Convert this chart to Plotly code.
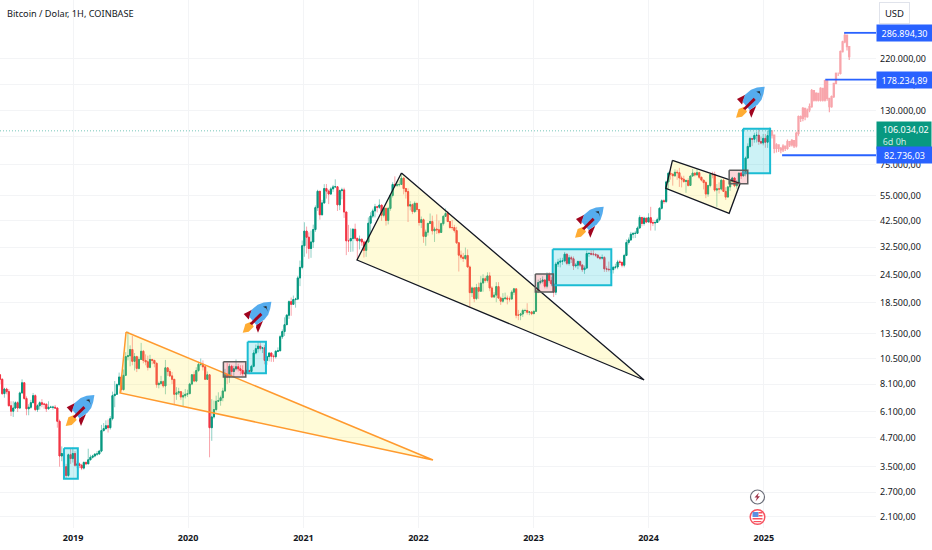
"""
Bitcoin / Dolar chart with hand drawn patterns, built with Plotly
"""
import numpy as np
import pandas as pd
import plotly.graph_objects as go

# weekly closes / highs / lows, one group per year
closes_2018 = [8500,7350,7700,7500,6500,6150,6350,6700,6350,7400,8200,7000,6300,6400,6700,7200,6250,6500,6700,6600,6600,6300,6400,6400,6400,6350,5550,3900,4000,3500,3200,3950,3800,4000]
highs_2018 = [8900,8600,7800,7800,7700,6800,6800,6800,6800,7500,8500,8250,7150,6600,6900,7400,7300,6600,6800,6950,6700,6650,6800,6500,6500,6550,6400,5650,4300,4200,3600,4000,4200,4250]
lows_2018 = [8100,7250,7050,7300,6450,5850,5800,6300,6100,6300,7350,6900,5900,5900,6300,6700,6150,6100,6250,6400,6300,6100,6250,6350,6250,6300,5200,3500,3700,3300,3120,3150,3600,3650]

closes_2019 = [3550,3600,3550,3450,3650,3600,3750,3850,3900,3980,3980,4100,5050,5150,5300,5200,5700,7200,7300,8050,8700,7650,8850,10700,10800,11500,10200,10700,9500,10400,11300,10300,10150,9600,10400,10300,10000,8050,8150,8300,7950,9550,9200,8800,8500,7300,7400,7500,7100,7200,7300,7350]
highs_2019 = [4100,3700,3650,3600,3700,3700,4200,3950,3950,4000,4100,4150,5350,5450,5600,5650,5850,7500,8350,8150,9100,8850,9400,11200,13800,12000,13200,11100,10800,10700,12300,11450,10950,10800,10900,10450,10350,10100,8300,8800,8400,10350,9550,9450,9150,8500,7850,7800,7500,7450,7700,7650]
lows_2019 = [3500,3450,3450,3380,3400,3550,3650,3750,3800,3850,3900,3950,4050,5000,5100,4950,5100,5600,6400,7300,7900,7450,7600,8800,10300,9700,9800,9300,9150,9400,10400,10000,9800,9300,9500,9900,9600,7800,7750,8000,7800,7300,8800,8700,8100,6550,6900,7250,6900,6450,7000,7100]

closes_2020 = [8100,8900,8350,9300,9900,9900,9650,8500,8900,5200,5800,6250,6800,6850,7050,7550,8900,8700,9700,9200,9450,9650,9450,9300,9000,9050,9300,9200,9700,11100,11600,11900,11650,11700,10300,10700,11100,10750,10700,11300,11350,13100,13800,14800,16300,18700,18200,19100,19200,23800,26500,33000]
highs_2020 = [8200,8950,9200,9600,10150,10500,10300,9700,9200,8000,6950,6850,7200,7450,7200,7800,9450,10050,9950,9850,9750,10400,9950,9800,9800,9300,9450,9350,9850,11450,12100,12450,12500,11800,12050,10800,11200,11200,10950,11450,11750,13350,14100,15950,16500,18950,19500,19900,19450,24300,28400,34800]
lows_2020 = [7300,8000,8250,8250,9150,9700,9300,8500,8450,3850,4550,5700,6150,6750,6500,6800,7500,8100,8200,8800,8700,9300,9200,8900,8800,8950,9000,8950,9100,9600,10950,11150,11400,11100,9900,9850,10200,10150,10150,10500,11200,11350,12800,13200,14800,15700,16200,18300,17600,19000,21900,26000]

closes_2021 = [38300,36000,32100,34300,38900,48600,57400,45200,51000,59000,57500,55800,58800,60000,60100,50000,57800,58200,46500,34700,34700,35500,39000,35600,34700,35300,34300,31500,34300,41500,44600,47000,49000,48800,49900,45000,48300,42700,48200,55000,61500,61000,61300,61500,65500,59000,57200,49400,50100,46700,50800,47700]
highs_2021 = [41900,40100,37800,38500,40900,49700,58300,52600,52600,61700,61800,58400,60000,61200,64800,56800,58400,59500,59500,46600,40800,39400,39500,41300,35600,36600,35100,34800,34500,44000,46400,48100,50500,49500,52900,47100,48800,48300,49000,55800,62900,66800,63700,64200,69000,66300,59400,59100,51900,50700,51800,48500]
lows_2021 = [29500,30500,28900,29200,32300,38000,47000,43000,44900,50500,53300,50400,55300,57000,59800,47000,47400,52900,43800,30000,31000,31000,31100,34800,28800,31800,33000,29300,29500,33900,37300,43700,44000,46300,48000,42500,44000,40500,41000,47100,53900,60000,59900,60200,62200,55600,53300,42000,47300,45500,46000,46600]

closes_2022 = [41800,43000,36300,37900,41400,42200,38400,39100,38800,37800,41300,44500,45800,42200,39700,39700,38500,34000,30000,29400,29000,29900,26600,20500,21500,19300,21600,20800,22600,23600,23200,24300,21500,19600,20000,21800,19400,18800,19300,19400,19200,19200,20600,21300,16300,16300,16500,17100,17100,16800,16850,16550]
highs_2022 = [47500,44400,43500,38900,41700,45800,44800,40000,45400,42600,41700,45000,48200,47000,42400,42900,40800,40000,34200,31400,30700,32400,31800,27000,21800,21700,22400,22700,24300,24700,24200,25200,25200,21900,20600,22800,22800,19700,20400,20500,19900,19700,21000,21500,21000,17200,16700,17400,17400,18400,17000,16900]
lows_2022 = [40500,39500,34000,33000,36600,41100,37000,34300,37200,37100,37600,40500,45500,42100,39300,38700,37700,33600,25400,28700,28000,28600,26500,17600,19600,18600,19000,19200,20700,20700,22700,22700,20800,19500,19500,18600,19300,18100,18500,19000,18200,18700,19200,20000,15800,15500,15500,16000,16700,16400,16300,16300]

closes_2023 = [16950,20900,22700,23000,23300,21900,24600,23200,22400,20600,27400,27950,28200,28300,30300,27600,29200,28900,26900,27100,28100,27100,25900,26300,30500,30500,30300,30300,30000,29300,29100,29300,26100,26000,25900,25900,26500,26600,28000,27900,27100,29900,34100,35000,37100,37400,37450,39500,44000,41400,43700,42000]
highs_2023 = [17100,21300,23400,23800,24200,23500,25200,25200,24000,22600,28000,28900,29200,29200,31000,30500,30000,29800,29600,27700,28400,28400,27400,27000,31400,31000,31500,31800,30400,30300,29700,30200,29700,26800,28100,26400,26900,27500,28600,28600,28000,30400,35200,35900,38000,37900,38400,40200,45000,43400,44300,43800]
lows_2023 = [16500,17000,20400,22300,22500,21400,21400,22700,21900,19600,20000,26600,26500,27200,27900,27100,27000,27700,25800,26400,26000,26600,25300,24800,26200,29500,29900,29700,29500,28900,28600,28700,25300,25300,25400,25000,24900,26000,26000,27100,26500,26500,29700,33400,34700,35600,35700,37500,39900,40200,40500,41500]

closes_2024 = [43900,41700,41600,41800,43000,48300,52100,51700,63100,68900,68400,67200,69600,69300,65700,64900,63400,64000,60900,67000,69000,67700,69300,66200,64300,62700,55800,60800,68100,68000,58100,58800,58700,64200,57300,54100,60000,63500,65700,60700,62800,69000,67100,68700,80400,90500,98000,97400,101200,101400,95100,93700,98200]
highs_2024 = [45900,49000,43000,42800,43900,48800,52900,52900,64000,70000,73800,68200,71700,71300,72800,67200,67200,64700,65500,67500,71900,69500,71900,70000,66400,63400,63800,61400,68300,70000,70000,61800,62800,65000,64900,59800,60600,64100,66500,66000,64400,69400,70000,73600,81700,93400,99700,98700,104000,105000,108300,99900,102700]
lows_2024 = [42600,38500,40300,38500,41900,42300,47700,50500,50900,59000,64600,60800,66400,64500,60000,59700,62500,56500,60200,60700,66700,66700,67700,65000,63400,58500,53500,54300,59700,65500,57100,49000,56100,57800,57200,52600,54600,57600,62700,59800,58900,62000,65000,66800,66800,80200,89400,90800,94000,94200,92000,92500,91500]

closes_2025 = [94500,101000,106034.02]
highs_2025 = [102700,106300,109800]
lows_2025 = [89300,89200,99500]

# the faded projection after the last real candle
ghost_closes = [101600,88800,91900,88800,87300,90900,88800,95000,91900,96000,90900,103400,122400,120300,133200,122400,131000,135500,159500,145000,155200,145000,163200,145000,176500,147500,135500,150000,171800,190200,190200,237000,262000,280000,249400,225300]
ghost_highs = [106000,100000,93500,92000,90000,92500,91000,97000,95000,97500,96000,105000,124000,124000,135000,133000,133000,140000,162000,160000,157000,155000,165000,163000,178000,176000,147000,152000,173000,192000,192000,240000,265000,286894,282000,250000]
ghost_lows = [98000,84400,85000,85500,84500,85500,86500,87500,90000,90500,89000,89500,101000,116000,117000,118000,121000,128000,134000,143000,143000,143000,143000,143000,143000,144000,128000,134000,148000,170000,185000,188000,235000,258000,240000,218000]

# right axis and bottom axis labels
price_ticks = [220000,170000,130000,100000,75000,55000,42500,32500,24500,18500,13500,10500,8100,6100,4700,3500,2700,2100]
year_ticks = ["2019-01-01","2020-01-01","2021-01-01","2022-01-01","2023-01-01","2024-01-01","2025-01-01"]
year_labels = ["2019","2020","2021","2022","2023","2024","2025"]

# drawings on the chart, (date, price) corners
wedge_orange = [("2019-06-18",13740),("2022-02-16",3745),("2019-05-30",7396)]
wedge_black = [("2021-11-08",69080),("2023-12-18",8440),("2021-06-20",28560)]
flag_black = [("2024-03-17",78600),("2024-10-18",62230),("2024-09-13",45880),("2024-02-25",59160)]
cyan_boxes = [("2018-12-03","2019-01-16",4217,3097),("2020-07-08","2020-09-04",12450,9036),
              ("2023-03-03","2023-09-05",31840,22080),("2024-10-27","2025-01-21",108400,68870)]
pink_boxes = [("2020-04-22","2020-07-02",10160,8700),("2023-01-07","2023-03-05",24770,20630),
              ("2024-09-13","2024-11-11",71000,61950)]
target_lines = [("2025-09-13",286894.30,"286.894,30"),("2025-07-15",178234.89,"178.234,89"),("2025-02-28",82736.03,"82.736,03")]
last_price = 106034.02

rocket_corners = [(65.7,395),(242.7,301.7),(575,206.7),(736,86.7)]

UP = "#089981"
DOWN = "#f23645"
GHOST = "#f8a5ab"
YELLOW = "rgba(255,235,59,0.2)"
GRID = "#f3f4f6"
TEXT = "#131722"
FONT = "Noto Sans"
X_START, X_END = "2018-05-14", "2025-12-23"
PLOT_W, PLOT_H = 876, 528


def fmt_price(value):
    return f"{value:,.2f}".replace(",", "#").replace(".", ",").replace("#", ".")


def px_path(points):
    # pixel positions to paper coordinates for the overlay icons
    coords = [f"{x / PLOT_W:.5f} {1 - y / PLOT_H:.5f}" for x, y in points]
    return "M " + " L ".join(coords) + " Z"


def icon_shape(points, color):
    return dict(type="path", xref="paper", yref="paper", path=px_path(points),
                fillcolor=color, line=dict(width=0), layer="above")


def rocket_shapes(left, top):
    parts = [
        ([(0,31),(2.7,22.3),(8.3,20),(11,25),(6,30)], "#ffac33"),
        ([(1,12.3),(9.3,8),(6,17.7)], "#a0041e"),
        ([(13.7,23.3),(20.3,19),(15.3,31),(13.3,25.7)], "#a0041e"),
        ([(28.7,0),(21,0.8),(15,3),(9,8),(6.5,15),(13.7,23.3),(21.5,18),(25.5,13),(27.5,7)], "#55acee"),
        ([(17.7,11),(19.7,13.3),(9.3,23.3),(7,21.7)], "#a0041e"),
        ([(20.3,5),(23.7,4.3),(25,10),(23.7,6.7)], "#292f33"),
    ]
    return [icon_shape([(left + x, top + y) for x, y in pts], color) for pts, color in parts]


def circle_shape(cx, cy, r, fill, line_color, width):
    return dict(type="circle", xref="paper", yref="paper",
                x0=(cx - r) / PLOT_W, x1=(cx + r) / PLOT_W,
                y0=1 - (cy + r) / PLOT_H, y1=1 - (cy - r) / PLOT_H,
                fillcolor=fill, line=dict(color=line_color, width=width), layer="above")


def candles(x, o, h, l, c, up, down, up_fill, down_fill, width=1):
    return go.Candlestick(
        x=x, open=o, high=h, low=l, close=c, showlegend=False, hoverinfo="skip",
        increasing=dict(line=dict(color=up, width=width), fillcolor=up_fill),
        decreasing=dict(line=dict(color=down, width=width), fillcolor=down_fill),
    )


def outline(points, line_color, fill_color, width=1.5):
    xs = [p[0] for p in points] + [points[0][0]]
    ys = [p[1] for p in points] + [points[0][1]]
    return go.Scatter(x=xs, y=ys, mode="lines", fill="toself", fillcolor=fill_color,
                      line=dict(color=line_color, width=width), showlegend=False, hoverinfo="skip")


def box_points(box):
    d0, d1, top, bottom = box
    return [(d0, top), (d1, top), (d1, bottom), (d0, bottom)]


closes = np.array(closes_2018 + closes_2019 + closes_2020 + closes_2021 + closes_2022 + closes_2023 + closes_2024 + closes_2025, dtype=float)
highs = np.array(highs_2018 + highs_2019 + highs_2020 + highs_2021 + highs_2022 + highs_2023 + highs_2024 + highs_2025, dtype=float)
lows = np.array(lows_2018 + lows_2019 + lows_2020 + lows_2021 + lows_2022 + lows_2023 + lows_2024 + lows_2025, dtype=float)
opens = np.concatenate([[8900.0], closes[:-1]])
highs = np.maximum.reduce([highs, opens, closes])
lows = np.minimum.reduce([lows, opens, closes])
dates = pd.date_range("2018-05-14", periods=len(closes), freq="7D")

g_closes = np.array(ghost_closes, dtype=float)
g_opens = np.concatenate([[closes[-1]], g_closes[:-1]])
g_highs = np.maximum.reduce([np.array(ghost_highs, dtype=float), g_opens, g_closes])
g_lows = np.minimum.reduce([np.array(ghost_lows, dtype=float), g_opens, g_closes])
g_dates = pd.date_range(dates[-1] + pd.Timedelta(days=7), periods=len(g_closes), freq="7D")

fig = go.Figure()

# wicks are lighter than the bodies, so two layers of candles
fig.add_trace(candles(dates, opens, highs, lows, closes,
                      "rgba(8,153,129,0.45)", "rgba(242,54,69,0.45)", UP, DOWN))
fig.add_trace(candles(dates, opens, np.maximum(opens, closes), np.minimum(opens, closes), closes,
                      UP, DOWN, UP, DOWN, width=1))
fig.add_trace(candles(g_dates, g_opens, g_highs, g_lows, g_closes,
                      GHOST, GHOST, GHOST, GHOST, width=1.2))

fig.add_trace(go.Scatter(x=[X_START, X_END], y=[last_price, last_price], mode="lines",
                         line=dict(color="rgba(8,153,129,0.55)", width=1, dash="1px,2px"),
                         showlegend=False, hoverinfo="skip"))

fig.add_trace(outline(wedge_orange, "#ff9a2e", YELLOW))
fig.add_trace(outline(wedge_black, "#131722", YELLOW, width=1.3))
fig.add_trace(outline(flag_black, "#131722", YELLOW, width=1.3))
for box in cyan_boxes:
    fig.add_trace(outline(box_points(box), "#1bbcd3", "rgba(0,188,212,0.2)", width=2))
for box in pink_boxes:
    fig.add_trace(outline(box_points(box), "#5d5d5d", "rgba(242,54,69,0.2)"))

for start, price, _ in target_lines:
    fig.add_trace(go.Scatter(x=[start, X_END], y=[price, price], mode="lines",
                             line=dict(color="#2962ff", width=1.8), showlegend=False, hoverinfo="skip"))

shapes = []
for left, top in rocket_corners:
    shapes += rocket_shapes(left, top)

# small event markers above the year axis
shapes.append(circle_shape(757.5, 497, 7, "white", "#6a6d78", 1.2))
shapes.append(icon_shape([(759,492.5),(754.5,497.5),(757,497.5),(755.5,501.5),(760,496.2),(757.6,496.2)], "#a0344a"))
shapes.append(circle_shape(757.5, 517, 7.3, "white", "#f7525f", 1.5))
shapes.append(icon_shape([(752.5,518),(762.5,518),(762.5,519.5),(752.5,519.5)], "#f7525f"))
shapes.append(icon_shape([(753.5,521),(761.5,521),(761.5,522.2),(753.5,522.2)], "#f7525f"))
shapes.append(icon_shape([(752.5,512),(758.5,512),(758.5,517),(752.5,517)], "#5b8fe0"))
shapes.append(icon_shape([(758.5,512),(762.5,512),(762.5,513.5),(758.5,513.5)], "#f7525f"))
shapes.append(icon_shape([(758.5,515),(762.5,515),(762.5,516.5),(758.5,516.5)], "#f7525f"))

annotations = [
    dict(xref="paper", yref="paper", x=4.5 / PLOT_W, y=1 - 13 / PLOT_H, text="Bitcoin / Dolar, 1H, COINBASE",
         showarrow=False, xanchor="left", yanchor="middle",
         font=dict(family=FONT, size=9.2, color=TEXT)),
    dict(xref="paper", yref="paper", x=894 / PLOT_W, y=1 - 13 / PLOT_H, text="USD",
         showarrow=False, xanchor="center", yanchor="middle", width=27, height=18,
         bordercolor="#e0e3eb", borderwidth=1, font=dict(family=FONT, size=9.5, color=TEXT)),
    dict(xref="paper", yref="y", x=1, y=np.log10(last_price) - 0.022,
         text="&nbsp;&nbsp;106.034,02<br><span style='color:#cde9e4'>&nbsp;&nbsp;6d 0h</span>",
         showarrow=False, xanchor="left", yanchor="middle", align="left", width=52, height=25,
         borderpad=1, bgcolor=UP, font=dict(family=FONT, size=9, color="white")),
]
for _, price, label in target_lines:
    annotations.append(dict(xref="paper", yref="y", x=1, y=np.log10(price), text=label,
                            showarrow=False, xanchor="left", yanchor="middle", width=53, height=14,
                            bgcolor="#2962ff", font=dict(family=FONT, size=9, color="white")))

fig.update_layout(
    width=932,
    height=550,
    margin=dict(l=0, r=56, t=0, b=22),
    paper_bgcolor="white",
    plot_bgcolor="white",
    showlegend=False,
    hovermode=False,
    shapes=shapes,
    annotations=annotations,
    xaxis=dict(
        type="date",
        range=[X_START, X_END],
        rangeslider=dict(visible=False),
        tickvals=year_ticks,
        ticktext=year_labels,
        tickangle=0,
        tickfont=dict(family=FONT, size=9, color=TEXT, weight="bold"),
        ticklabelstandoff=3,
        gridcolor=GRID,
        zeroline=False,
        showline=False,
        ticks="",
    ),
    yaxis=dict(
        type="log",
        side="right",
        range=[3.2735, 5.6026],
        tickvals=price_ticks,
        ticktext=[fmt_price(v) for v in price_ticks],
        tickfont=dict(family=FONT, size=9, color=TEXT),
        ticklabelstandoff=3,
        gridcolor=GRID,
        zeroline=False,
        showline=False,
        ticks="",
    ),
)

fig.write_html("out.html", config=dict(displayModeBar=False), post_script="document.body.style.margin='0';")
